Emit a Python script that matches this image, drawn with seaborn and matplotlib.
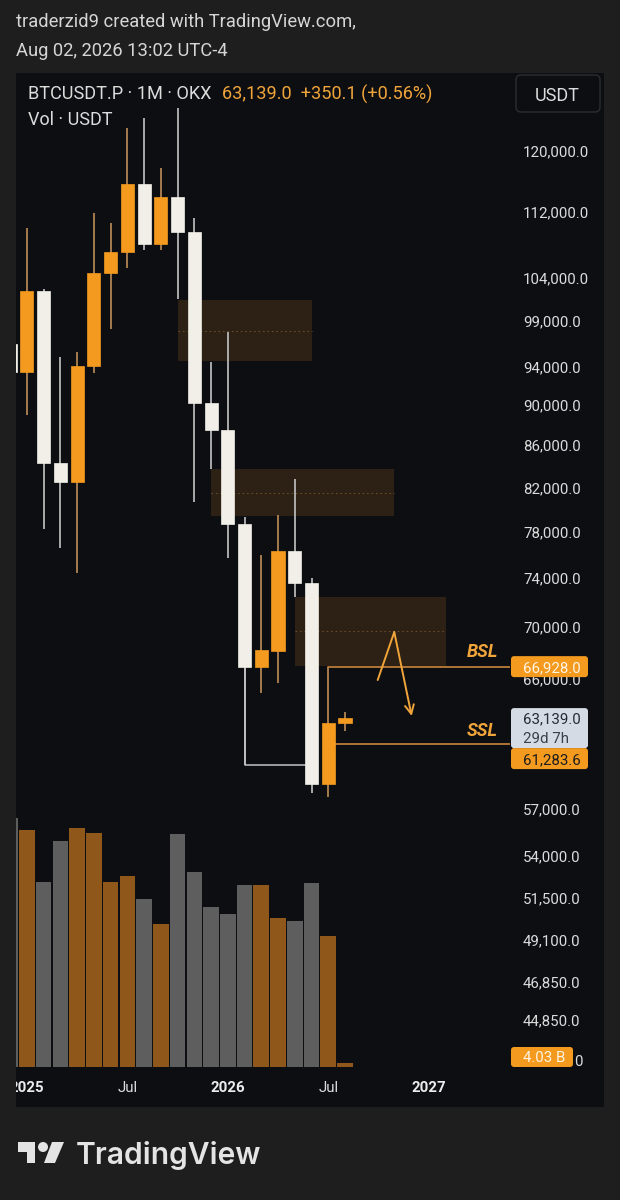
import numpy as np
import pandas as pd
import matplotlib
matplotlib.use("Agg")
import matplotlib.pyplot as plt
import matplotlib.transforms as mtransforms
from matplotlib.patches import Rectangle, FancyBboxPatch, Polygon, Circle
from matplotlib.ticker import FixedLocator, NullLocator
import seaborn as sns

# ---------------- data ----------------
months = ["2024-12", "2025-01", "2025-02", "2025-03", "2025-04", "2025-05", "2025-06",
          "2025-07", "2025-08", "2025-09", "2025-10", "2025-11", "2025-12", "2026-01",
          "2026-02", "2026-03", "2026-04", "2026-05", "2026-06", "2026-07", "2026-08"]
month_idx = list(range(-1, 20))
opens = [96400, 93400, 102410, 84290, 82500, 94080, 104520, 107040, 115600, 108010,
         113920, 109490, 90220, 87500, 78660, 66900, 68120, 76290, 73580, 58600, 62789]
highs = [108300, 109990, 102700, 95040, 95580, 111870, 110610, 123180, 124580, 117720,
         126000, 111240, 94500, 97770, 79290, 75950, 79470, 82780, 74000, 66928, 63570]
lows = [92200, 89000, 78220, 76550, 74420, 93330, 98100, 105120, 107280, 107280,
        101490, 80650, 83720, 75690, 59870, 64960, 65700, 72420, 58000, 57740, 62220]
closes = [93400, 102410, 84290, 82500, 94080, 104520, 107040, 115600, 108010, 113920,
          109490, 90220, 87500, 78660, 66900, 68200, 76290, 73580, 58600, 62789, 63139]
volume_bn = [249, 237, 185, 226, 239, 234, 185, 191, 168, 143, 233, 195, 160, 153,
             182, 182, 149, 146, 184, 131, 4.03]

price_ticks = [120000, 112000, 104000, 99000, 94000, 90000, 86000, 82000, 78000, 74000,
               70000, 66000, 57000, 54000, 51500, 49100, 46850, 44850]
hidden_tick = 42850  # only its last "0" peeks out from behind the volume label
x_tick_pos = [0, 6, 12, 18, 24]
x_tick_labels = ["2025", "Jul", "2026", "Jul", "2027"]

zone_left = [9.0, 11.0, 16.0]
zone_right = [17.0, 21.9, 25.0]
zone_low = [94610, 79370, 66980]
zone_high = [101370, 83720, 72420]

bsl_price = 66928.0
ssl_price = 61283.6
sweep_low = 59870
sweep_from, sweep_to = 13, 17
last_price = 63139.0
change = 350.1
change_pct = 0.56
current_volume = "4.03 B"
countdown = "29d 7h"
arrow_month = [20.95, 21.94, 22.98]
arrow_price = [65920, 69600, 63290]

# ---------------- style ----------------
sns.set_theme(style="dark")
plt.rcParams["font.family"] = ["Roboto", "DejaVu Sans"]

OUTER = "#1e1e1e"
PANEL = "#0d0e12"
TXT = "#dcdcdc"
ORANGE = "#f39a1f"
ORANGE_TXT = "#f0a43a"
WHITE_BODY = "#f1efe7"
ORANGE_WICK = "#bf8d58"
WHITE_WICK = "#c4c4c4"
VOL_UP = "#8f5719"
VOL_DN = "#5e5e5e"
ZONE = "#2c2114"
ZONE_MID = "#6a4b26"

W, H = 620, 1200
PL, PR, PT, PB = 16, 510, 73, 1067


def fx(px):
    return px / W


def fy(py):
    return 1 - py / H


fig = plt.figure(figsize=(W / 100, H / 100), dpi=100, facecolor=OUTER)
pix = mtransforms.Affine2D().scale(1, -1).translate(0, H)  # (x, y-from-top) -> display

# chart panel background
fig.add_artist(Rectangle((fx(16), fy(1107)), fx(604) - fx(16), (1107 - 73) / H,
                         transform=fig.transFigure, facecolor=PANEL, edgecolor="none", zorder=-5))

rect = [fx(PL), fy(PB), fx(PR) - fx(PL), (PB - PT) / H]
x_left = -0.645
x_right = 28.85

# ---------------- volume ----------------
axv = fig.add_axes(rect, zorder=1)
axv.set_facecolor("none")
up = np.array(closes) >= np.array(opens)
vdf = pd.DataFrame({"idx": month_idx, "vol": volume_bn, "dir": np.where(up, "up", "down")})
sns.barplot(data=vdf, x="idx", y="vol", hue="dir", palette={"up": VOL_UP, "down": VOL_DN},
            native_scale=True, dodge=False, width=0.93, errorbar=None, legend=False,
            saturation=1, linewidth=0, ax=axv)
axv.set_xlim(x_left, x_right)
axv.set_ylim(0, 994)
axv.set_xticks([])
axv.set_yticks([])
axv.set_xlabel("")
axv.set_ylabel("")
for s in axv.spines.values():
    s.set_visible(False)

# ---------------- price ----------------
ax = fig.add_axes(rect, zorder=2)
ax.set_facecolor("none")
ax.set_yscale("log")
ax.set_xlim(x_left, x_right)
ax.set_ylim(42529, 131096)
for s in ax.spines.values():
    s.set_visible(False)
ax.grid(False)

# zones
for x0, x1, lo, hi in zip(zone_left, zone_right, zone_low, zone_high):
    ax.add_patch(Rectangle((x0, lo), x1 - x0, hi - lo, facecolor=ZONE, edgecolor="none", zorder=1))
    mid = np.sqrt(lo * hi)
    ax.plot([x0, x1], [mid, mid], color=ZONE_MID, lw=0.8, ls=(0, (1.5, 2.5)), zorder=1.1)

# sweep line from Feb-2026 low
ax.plot([sweep_from, sweep_from, sweep_to], [closes[month_idx.index(sweep_from)], sweep_low, sweep_low],
        color=WHITE_WICK, lw=1.1, zorder=1.5)

# candles
o = np.array(opens, float)
c = np.array(closes, float)
wick_cols = [ORANGE_WICK if u else WHITE_WICK for u in up]
body_cols = [ORANGE if u else WHITE_BODY for u in up]
ax.vlines(month_idx, lows, highs, colors=wick_cols, lw=1.2, zorder=2)
ax.bar(month_idx, np.abs(c - o), bottom=np.minimum(o, c), width=0.78, color=body_cols,
       edgecolor=body_cols, linewidth=0.5, zorder=3)

# BSL / SSL lines
ax.plot([18, x_right], [bsl_price, bsl_price], color="#c9873c", lw=1.2, zorder=2.5)
ax.plot([18.39, x_right], [ssl_price, ssl_price], color="#c9873c", lw=1.2, zorder=2.5)
ax.text(27.18, 68050, "BSL", color=ORANGE_TXT, fontsize=13, fontweight="bold", style="italic",
        ha="center", va="center", zorder=4)
ax.text(27.18, 62250, "SSL", color=ORANGE_TXT, fontsize=13, fontweight="bold", style="italic",
        ha="center", va="center", zorder=4)

# hand-drawn arrow
ax.plot(arrow_month[:2], arrow_price[:2], color=ORANGE_TXT, lw=1.4, zorder=4, solid_capstyle="round")
ax.annotate("", xy=(arrow_month[2], arrow_price[2]), xytext=(arrow_month[1], arrow_price[1]),
            arrowprops=dict(arrowstyle="->", color=ORANGE_TXT, lw=1.4, mutation_scale=16,
                            shrinkA=0, shrinkB=0), zorder=4)

# y ticks (right, left-aligned)
ax.yaxis.tick_right()
ax.yaxis.set_major_locator(FixedLocator(price_ticks))
ax.yaxis.set_minor_locator(NullLocator())
ax.set_yticklabels([f"{v:,.1f}" for v in price_ticks])
ax.tick_params(axis="y", length=0, pad=9.4, labelsize=10.8, labelcolor=TXT)

# x ticks
ax.set_xticks(x_tick_pos)
ax.set_xticklabels(x_tick_labels)
ax.xaxis.set_minor_locator(NullLocator())
ax.tick_params(axis="x", length=0, pad=10, labelsize=10.8, labelcolor=TXT)
for lab in ax.get_xticklabels():
    if lab.get_text().isdigit():
        lab.set_fontweight("bold")
        lab.set_color("#ececec")

# mask left of panel (clips "2025")
fig.add_artist(Rectangle((0, fy(1107)), fx(16), (1107 - 73) / H, transform=fig.transFigure,
                         facecolor=OUTER, edgecolor="none", zorder=4))


def ypix(p):
    return H - ax.transData.transform((0, p))[1]


def box(x0, y0, x1, y1, color, rs=3):
    fig.add_artist(FancyBboxPatch((x0, y0), x1 - x0, y1 - y0,
                                  boxstyle=f"round,pad=0,rounding_size={rs}",
                                  transform=pix, facecolor=color, edgecolor="none", zorder=6))


def ptext(x, y, s, color, size=10.8, **kw):
    fig.text(fx(x), fy(y), s, color=color, fontsize=size, va="center_baseline", zorder=7, **kw)


# price-scale labels
yb = ypix(bsl_price)
box(511, yb - 10.5, 588, yb + 10.5, ORANGE)
ptext(523, yb, f"{bsl_price:,.1f}", "#fff4e2")

yl = ypix(last_price)
box(511, yl - 10, 588, yl + 30, "#d4dbe5")
ptext(523, yl, f"{last_price:,.1f}", "#262a33")
ptext(523, yl + 19, countdown, "#3a3f4a")

box(511, yl + 30, 588, yl + 51, ORANGE)
ptext(523, yl + 40.5, f"{ssl_price:,.1f}", "#1d1d1d")

yv = H - axv.transData.transform((0, 0))[1]
box(511, yv - 20, 573, yv, ORANGE)
ptext(523, yv - 10, current_volume, "#fff4e2")
# tail of the hidden 42,850.0 price label
ptext(574, ypix(hidden_tick), f"{hidden_tick:,.1f}"[-1], TXT)

# header
ptext(16, 20, "traderzid9 created with TradingView.com,", "#d6d6d6", size=13.2)
ptext(16, 49, "Aug 02, 2026 13:02 UTC-4", "#d6d6d6", size=13.2)
ptext(28, 92, "BTCUSDT.P · 1M · OKX", TXT, size=13.1)
ptext(222, 92, f"{last_price:,.1f}  +{change:,.1f} (+{change_pct:.2f}%)", ORANGE_TXT, size=13.1)
ptext(28, 118, "Vol · USDT", TXT, size=13)

# USDT box
fig.add_artist(FancyBboxPatch((516, 75), 84, 37, boxstyle="round,pad=0,rounding_size=5",
                              transform=pix, facecolor=PANEL, edgecolor="#2c2d31", lw=1, zorder=6))
fig.text(fx(557), fy(94), "USDT", color=TXT, fontsize=13, ha="center", va="center_baseline", zorder=7)

# TradingView logo
LOGO = "#e4e4e4"
fig.add_artist(Polygon([(18, 1142), (35, 1142), (35, 1163), (27, 1163), (27, 1152), (18, 1152)],
                       closed=True, transform=pix, facecolor=LOGO, edgecolor="none", zorder=6))
fig.add_artist(Circle((43, 1147), 5, transform=pix, facecolor=LOGO, edgecolor="none", zorder=6))
fig.add_artist(Polygon([(52, 1142), (64, 1142), (55, 1163), (44, 1163)], closed=True,
                       transform=pix, facecolor=LOGO, edgecolor="none", zorder=6))
fig.text(fx(76), fy(1153), "TradingView", color=LOGO, fontsize=21.6, fontweight="semibold",
         family=["Inter", "DejaVu Sans"], va="center_baseline", zorder=7)

fig.savefig("out.png", dpi=100, facecolor=OUTER)
